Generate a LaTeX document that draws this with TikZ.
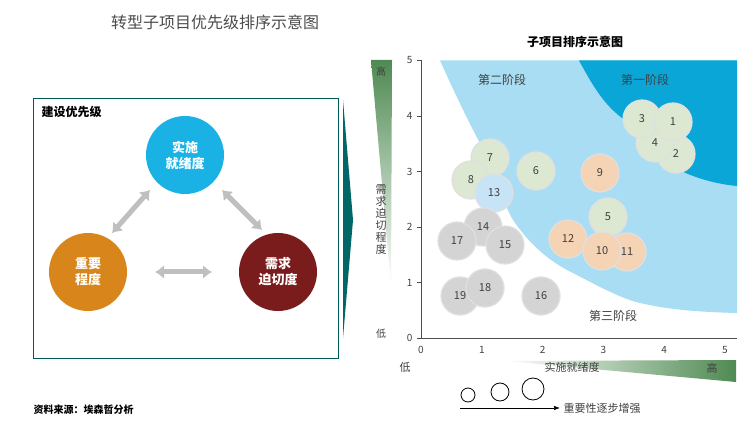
\documentclass[tikz,border=0pt]{standalone}
\usepackage{fontspec}
\setmainfont{Noto Sans CJK SC}
\definecolor{lblue}{HTML}{A9DDF3}
\definecolor{dblue}{HTML}{0AA6D8}
\definecolor{cblue}{HTML}{1AB2E4}
\definecolor{corange}{HTML}{D8861C}
\definecolor{cred}{HTML}{7A1C1C}
\definecolor{pgreen}{HTML}{DCE8D2}
\definecolor{porange}{HTML}{F5D3B5}
\definecolor{pblue}{HTML}{C7E3F6}
\definecolor{pgray}{HTML}{D4D4D4}
\definecolor{gbar}{HTML}{4E8A52}
\begin{document}
\begin{tikzpicture}[x=1pt,y=-1pt,
  bub/.style={circle,minimum size=38pt,inner sep=0pt,draw=black!12,line width=1.2pt,font=\fontsize{11}{11}\selectfont,text=black!75},
  gb/.style={bub,fill=pgreen},
  ob/.style={bub,fill=porange},
  bb/.style={bub,fill=pblue},
  yb/.style={bub,fill=pgray},
  big/.style={circle,minimum size=78pt,inner sep=0pt,text=white,font=\bfseries\fontsize{13}{16}\selectfont,align=center},
  darr/.style={draw=black!25,line width=5pt,{Latex[length=9pt,width=14pt]}-{Latex[length=9pt,width=14pt]}},
  lab/.style={font=\fontsize{10}{10}\selectfont,text=black!75}]
\usetikzlibrary{arrows.meta}
\useasboundingbox (0,0) rectangle (752,430);
\fill[white] (0,0) rectangle (752,430);
% titles
\node[font=\fontsize{16}{16}\selectfont,text=black!70] (t) at (215,22) {转型子项目优先级排序示意图};
\node[font=\bfseries\fontsize{12}{12}\selectfont] (t2) at (575,42) {子项目排序示意图};
\node[font=\bfseries\fontsize{10}{10}\selectfont,anchor=west] (src) at (30,410) {资料来源：埃森哲分析};
% left box
\draw[draw=teal!70!black,line width=0.8pt] (33,98) rectangle (338,358);
\node[font=\bfseries\fontsize{12}{12}\selectfont,anchor=west] (bt) at (38,112) {建设优先级};
\fill[teal!80!black] (343,100) -- (353,220) -- (343,338) -- cycle;
\node[big,fill=cblue] (a) at (185,155) {实施\\就绪度};
\node[big,fill=corange] (b) at (88,272) {重要\\程度};
\node[big,fill=cred] (c) at (278,272) {需求\\迫切度};
\draw[darr] (112,233) -- (150,190);
\draw[darr] (222,190) -- (262,230);
\draw[darr] (155,272) -- (212,272);
% regions
\fill[lblue] (440,60.5) .. controls (460,105) and (474,132) .. (482,147)
  .. controls (493,172) and (503,203) .. (513,220)
  .. controls (530,245) and (550,262) .. (573,273)
  .. controls (600,287) and (620,298) .. (640,303)
  .. controls (670,310) and (700,312) .. (737,313) -- (737,60.5) -- cycle;
\fill[dblue] (579,60.5) .. controls (595,90) and (605,105) .. (622,118)
  .. controls (635,132) and (650,152) .. (670,165)
  .. controls (690,177) and (715,184) .. (737,186) -- (737,60.5) -- cycle;
\node[lab,font=\fontsize{12}{12}\selectfont] (s2) at (502,80) {第二阶段};
\node[lab,font=\fontsize{12}{12}\selectfont] (s1) at (645,80) {第一阶段};
\node[lab,font=\fontsize{12}{12}\selectfont] (s3) at (613,316) {第三阶段};
% axes
\draw[black!70] (421,60) -- (421,338) -- (737,338);
\foreach \i in {0,...,5}{
  \draw[black!70] (417,338-55.5*\i) -- (421,338-55.5*\i);
  \node[lab,anchor=east] (yl\i) at (416,338-55.5*\i) {\i};
  \node[lab] (xl\i) at (421+60.8*\i,350) {\i};}
% bubbles
\node[gb] (n2) at (676,154) {2};
\node[gb] (n4) at (655,143) {4};
\node[gb] (n3) at (642,119) {3};
\node[gb] (n1) at (673,122) {1};
\node[gb] (n7) at (490,158) {7};
\node[gb] (n6) at (536,171) {6};
\node[ob] (n9) at (600,173) {9};
\node[gb] (n8) at (471,180) {8};
\node[bb] (n13) at (494,193) {13};
\node[gb] (n5) at (608,217) {5};
\node[ob] (n11) at (627,252) {11};
\node[ob] (n12) at (568,239) {12};
\node[ob] (n10) at (602,251) {10};
\node[yb] (n14) at (483,227) {14};
\node[yb] (n17) at (457,241) {17};
\node[yb] (n15) at (505,245) {15};
\node[yb] (n19) at (460,296) {19};
\node[yb] (n18) at (485,288) {18};
\node[yb] (n16) at (541,296) {16};
% gradient bars
\shade[top color=gbar,bottom color=white] (371,60) -- (392,60) -- (391,285) -- cycle;
\node[lab] (hi) at (381,72) {高};
\node[lab] (lo) at (381,334) {低};
\node[lab,align=center,font=\fontsize{11}{12}\selectfont] (vy) at (381,220) {需\\求\\迫\\切\\程\\度};
\shade[left color=white,right color=gbar] (505,361) -- (736,360) -- (736,382) -- cycle;
\node[lab,font=\fontsize{11}{11}\selectfont] (vx) at (572,367) {实施就绪度};
\node[lab,font=\fontsize{11}{11}\selectfont] (hx) at (712,368) {高};
\node[lab,font=\fontsize{11}{11}\selectfont] (lx) at (405,367) {低};
% size legend
\draw[line width=0.8pt] (468,395) circle (7);
\draw[line width=0.8pt] (500,392) circle (9);
\draw[line width=0.8pt] (533,389) circle (11);
\coordinate (la) at (460,408);
\node[lab,anchor=west,font=\fontsize{11}{11}\selectfont] (lt) at (560,408) {重要性逐步增强};
\draw[-{Latex[length=6pt]},line width=0.7pt] (la) -- (lt.west);
\end{tikzpicture}
\end{document}
